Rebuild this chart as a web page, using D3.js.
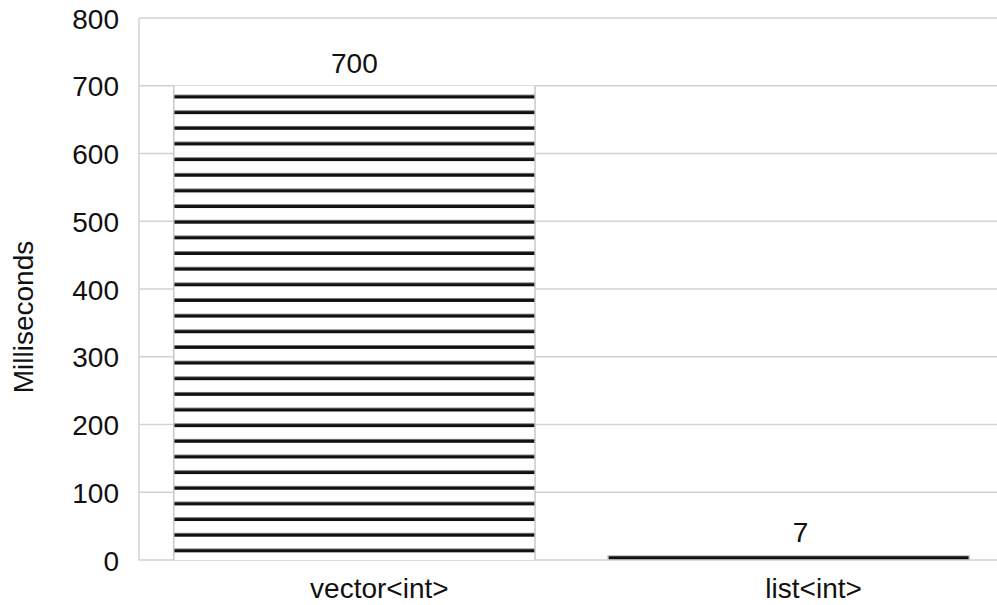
<!DOCTYPE html>
<html>
<head>
<meta charset="utf-8">
<script src="https://cdn.jsdelivr.net/npm/d3@7"></script>
<style>
  html, body { margin: 0; padding: 0; background: #fff; }
  svg { display: block; font-family: "Liberation Sans", Arial, Helvetica, sans-serif; }
</style>
</head>
<body>
<svg id="chart" width="997" height="605"></svg>
<script>
const categories = ["vector<int>", "list<int>"];
const values = [700, 7];
const yTicks = [0, 100, 200, 300, 400, 500, 600, 700, 800];
const yTitle = "Milliseconds";

const W = 997, H = 605;
const svg = d3.select("#chart");
const plotLeft = 139, plotTop = 18, plotBottom = 560;

const y = d3.scaleLinear().domain([0, 800]).range([plotBottom, plotTop]);
const x = d3.scaleBand().domain(categories).range([plotLeft, 1004])
  .paddingInner(0.168).paddingOuter(0.08);

// gridlines
svg.append("g").selectAll("line").data(yTicks).join("line")
  .attr("x1", plotLeft).attr("x2", W)
  .attr("y1", d => y(d)).attr("y2", d => y(d))
  .attr("stroke", "#d2d2d2").attr("stroke-width", 1.5);

// left axis line
svg.append("line")
  .attr("x1", plotLeft).attr("x2", plotLeft)
  .attr("y1", y(800)).attr("y2", y(0))
  .attr("stroke", "#d2d2d2").attr("stroke-width", 1.5);

// y tick labels
const yAxis = d3.axisLeft(y).tickValues(yTicks).tickSize(0).tickPadding(20);
const gy = svg.append("g").attr("transform", `translate(${plotLeft},0)`).call(yAxis);
gy.select(".domain").remove();
gy.selectAll("text").attr("font-size", 28).attr("fill", "#111")
  .attr("font-family", "Liberation Sans, Arial, sans-serif").attr("dy", "0.36em");

// y title
svg.append("text")
  .attr("transform", `translate(33,${(y(800) + y(0)) / 2 + 28}) rotate(-90)`)
  .attr("text-anchor", "middle").attr("font-size", 28).attr("fill", "#111")
  .text(yTitle);

// stripe patterns, one per bar, anchored at bar top
const step = 15.65, thick = 3.5;
const defs = svg.append("defs");
values.forEach((v, i) => {
  const top = y(v);
  const h = y(0) - top;
  const phase = Math.min(11, h / 2);
  const p = defs.append("pattern")
    .attr("id", "stripes" + i)
    .attr("patternUnits", "userSpaceOnUse")
    .attr("x", 0).attr("y", top + phase + thick / 2 - step)
    .attr("width", 20).attr("height", step);
  p.append("rect").attr("width", 20).attr("height", step).attr("fill", "#fff");
  p.append("rect").attr("y", step - thick).attr("width", 20).attr("height", thick).attr("fill", "#111");
});

// bars
const bars = svg.append("g").selectAll("g").data(categories).join("g");
bars.append("rect")
  .attr("x", d => x(d)).attr("width", x.bandwidth())
  .attr("y", (d, i) => y(values[i])).attr("height", (d, i) => y(0) - y(values[i]))
  .attr("fill", (d, i) => `url(#stripes${i})`);
// light side borders
bars.each(function(d, i) {
  const g = d3.select(this);
  [x(d), x(d) + x.bandwidth()].forEach(xx => {
    g.append("line").attr("x1", xx).attr("x2", xx)
      .attr("y1", y(values[i])).attr("y2", y(0))
      .attr("stroke", "#c8c8c8").attr("stroke-width", 1.5);
  });
});

// value labels
svg.append("g").selectAll("text").data(categories).join("text")
  .attr("x", (d, i) => x(d) + x.bandwidth() / 2 + (i === 0 ? 0 : 12))
  .attr("y", (d, i) => y(values[i]) - 13)
  .attr("text-anchor", "middle").attr("font-size", 28).attr("fill", "#111")
  .text((d, i) => values[i]);

// category labels
svg.append("g").selectAll("text").data(categories).join("text")
  .attr("x", d => x(d) + x.bandwidth() / 2 + 25)
  .attr("y", 598)
  .attr("text-anchor", "middle").attr("font-size", 28).attr("fill", "#111")
  .text(d => d);
</script>
</body>
</html>
